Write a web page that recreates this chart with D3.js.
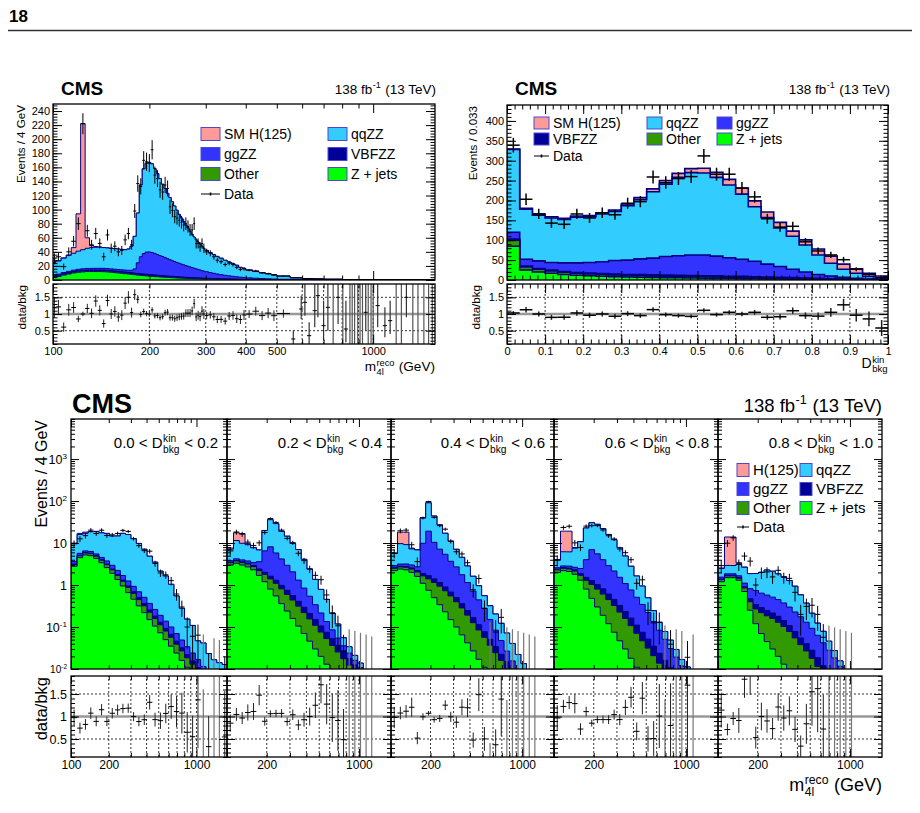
<!DOCTYPE html>
<html>
<head>
<meta charset="utf-8">
<script src="https://cdn.jsdelivr.net/npm/d3@7"></script>
<style>
  body { margin: 0; background: #fff; }
  svg text { font-family: "Liberation Sans", Arial, Helvetica, sans-serif; fill: #000; white-space: pre; }
</style>
</head>
<body>
<svg id="chart" width="920" height="813"></svg>
<script>
// ============================================================================
// m4l / D_bkg^kin overview: two linear stacks on top, five log-y m4l stacks
// below (one per D_bkg^kin slice), each with a data/bkg ratio pad underneath.
// ============================================================================

// ── Top-left: m4l, events / 4 GeV (4 GeV bins up to 298, wider after) ──────
const tlEdges = [100, ...d3.range(102, 299, 4), 306, 314, 322, 330, 340, 350, 360, 370, 380, 390, 400,
  420, 440, 460, 480, 500, 550, 600, 650, 700, 800, 900, 1000, 1200, 1560];
const tlZjets = [4, 5, 7, 8.5, 10, 11, 11.5, 12, 12, 12, 12, 11.8, 11.5, 11, 10.5, 10, 9.5, 9, 8.5, 8,
  7.5, 7, 6.6, 6.2, 5.8, 5.5, 5.2, 4.9, 4.6, 4.3, 4.1, 3.9, 3.7, 3.5, 3.3, 3.1, 2.9, 2.75, 2.6, 2.45,
  2.3, 2.2, 2.1, 2, 1.9, 1.8, 1.7, 1.6, 1.5, 1.45, 1.35, 1.25, 1.15, 1.05, 0.95, 0.85, 0.75, 0.68, 0.6, 0.55,
  0.5, 0.42, 0.35, 0.28, 0.23, 0.19, 0.14, 0.09, 0.06, 0.04, 0.025, 0.014, 0.008, 0.004, 0.001];
const tlOther = [1.0, 1.1, 1.2, 1.3, 1.4, 1.5, 1.5, 1.5, 1.5, 1.5, 1.5, 1.5, 1.5, 1.45, 1.45, 1.4, 1.4, 1.35, 1.35, 1.3,
  1.3, 1.3, 1.3, 1.25, 1.25, 1.2, 1.2, 1.15, 1.15, 1.1, 1.1, 1.05, 1.0, 1.0, 0.95, 0.95, 0.9, 0.9, 0.85, 0.85,
  0.8, 0.8, 0.75, 0.75, 0.7, 0.7, 0.68, 0.65, 0.62, 0.6, 0.57, 0.53, 0.5, 0.47, 0.44, 0.4, 0.37, 0.34, 0.31, 0.29,
  0.27, 0.23, 0.2, 0.17, 0.15, 0.13, 0.1, 0.07, 0.05, 0.035, 0.022, 0.013, 0.008, 0.004, 0.0015];
const tlVBF = [0.6, 0.6, 0.65, 0.65, 0.7, 0.7, 0.75, 0.75, 0.8, 0.8, 0.8, 0.85, 0.85, 0.85, 0.9, 0.9, 0.9, 0.95, 0.95, 1.0,
  1.0, 1.05, 1.1, 1.1, 1.15, 1.15, 1.15, 1.15, 1.1, 1.1, 1.1, 1.05, 1.05, 1.0, 1.0, 0.95, 0.95, 0.9, 0.9, 0.85,
  0.85, 0.8, 0.8, 0.78, 0.75, 0.72, 0.7, 0.68, 0.65, 0.62, 0.6, 0.56, 0.53, 0.5, 0.47, 0.44, 0.41, 0.38, 0.35, 0.33,
  0.31, 0.28, 0.24, 0.21, 0.18, 0.16, 0.13, 0.1, 0.075, 0.055, 0.04, 0.025, 0.017, 0.01, 0.004];
const tlGG = [1.5, 1.6, 1.7, 1.8, 1.9, 2.0, 2.1, 2.2, 2.2, 2.3, 2.3, 2.4, 2.4, 2.5, 2.5, 2.6, 2.7, 2.8, 3.0, 3.5,
  6, 15, 24, 29, 31.5, 32, 31.5, 30.5, 29.3, 28.2, 27, 25.8, 24.6, 23.4, 22.2, 21.2, 20.2, 19.2, 18.3, 17.4,
  16.6, 15.8, 15, 14.2, 13.4, 12.7, 12, 11.3, 10.6, 10, 9.2, 8.2, 7.3, 6.5, 5.7, 5.0, 4.4, 3.8, 3.3, 2.9,
  2.6, 2.1, 1.7, 1.35, 1.1, 0.9, 0.65, 0.42, 0.28, 0.19, 0.12, 0.065, 0.038, 0.02, 0.008];
const tlQQ = [17.9, 18.7, 20.5, 22.8, 24.0, 25.8, 27.2, 28.6, 29.5, 29.9, 29.9, 29.5, 29.3, 29.2, 29.2, 29.1, 29.0, 28.9, 30.2, 34.2,
  46.2, 70.7, 102, 120.5, 126.3, 127.2, 126, 120.3, 114.9, 109.3, 102.7, 98.2, 92.7, 88.1, 83.6, 78.8, 74.1, 69.3, 65.4, 61.5,
  57.5, 54.4, 50.4, 47.3, 44.3, 41.1, 38.9, 36.8, 34.6, 32.3, 30.3, 28.5, 26.5, 25.0, 23.4, 21.3, 19.6, 17.8, 16.4, 13.9,
  12.8, 11.0, 9.5, 8.5, 7.1, 6.0, 4.5, 2.3, 1.5, 1.2, 0.89, 0.48, 0.28, 0.16, 0.066];
const tlH = [0.1, 0.2, 0.3, 0.5, 8, 53, 179, 15, 3, 1, 0.4, 0.2];   // later bins: 0
const tlData = [30, 33, 19, 40, 55, 80, 222, 70, 50, 66, 52, 33, 64, 45, 48, 40, 42, 57, 66, 50,
  98, 137, 133, 170, 168, 166, 185, 149, 144, 128, 125, 135, 130, 104, 99, 90, 88, 85, 82, 78,
  80, 76, 71, 71, 80, 52, 52, 47, 52, 45, 40, 38, 33, 28, 26, 22, 24, 22, 18, 15,
  16, 14, 13, 10, 9, 7, 5.6, 3.2, 2.0, 1.5, 1.0, 0.55, 0.4, 0.2, 0.06];
// high-mass ratio points: [m4l, ratio (null = empty bin), low, high]
const tlRatioTail = [[563, 0.25, 0.1, 0.5], [596, 1.15, 0.85, 1.55], [612, 1.35, 0.95, 1.9], [631, 0.35, 0.1, 0.75],
  [657, 1.1, 0.6, 1.9], [672, 1.55, 0.9, 1.9], [700, 0.65, 0.2, 1.4], [722, 1.2, 0.5, 1.9], [750, null, 0.1, 1.9],
  [777, 1.5, 0.7, 1.9], [804, null, 0.1, 1.9], [822, 0.55, 0.15, 1.4], [846, null, 0.1, 1.9], [860, null, 0.1, 1.9],
  [875, null, 0.1, 1.9], [895, null, 0.1, 1.9], [910, null, 0.1, 1.9], [926, null, 0.1, 1.9], [948, 1.05, 0.5, 1.9],
  [965, null, 0.1, 1.9], [985, null, 0.1, 1.9], [1000, null, 0.1, 1.9], [1033, 1.25, 0.6, 1.9], [1088, 0.65, 0.3, 1.2],
  [1130, 0.8, 0.4, 1.4], [1180, null, 0.1, 1.9], [1225, null, 0.1, 1.9], [1270, 1.5, 0.9, 1.9], [1330, null, 0.1, 1.9],
  [1380, null, 0.1, 1.9], [1440, null, 0.1, 1.9], [1490, null, 0.1, 1.9], [1530, null, 0.1, 1.9]];

// ── Top-right: D_bkg^kin, 30 bins of 0.033 ─────────────────────────────────
const trZjets = [85, 25, 20, 17, 14, 12, 10.5, 9.5, 8.5, 7.5, 7, 6.5, 6, 5.5, 5, 4.5, 4.2, 3.8, 3.5, 3.2, 2.9, 2.6, 2.3, 2, 1.7, 1.4, 1.2, 0.9, 0.6, 0.4];
const trOther = [15, 8, 7, 6, 5.5, 5, 4.8, 4.5, 4.3, 4.1, 4, 3.9, 3.8, 3.7, 3.6, 3.5, 3.3, 3.1, 2.9, 2.7, 2.4, 2.1, 1.8, 1.5, 1.2, 0.9, 0.7, 0.5, 0.3, 0.2];
const trVBF = [3, 2, 2, 2, 2, 2, 2, 2.1, 2.2, 2.3, 2.4, 2.5, 2.6, 2.7, 2.8, 2.8, 2.8, 2.7, 2.6, 2.4, 2.2, 2, 1.8, 1.5, 1.2, 0.9, 0.7, 0.5, 0.3, 0.2];
const trGG = [17, 17, 19, 19, 21.5, 24, 26.7, 29.9, 34, 36.1, 39.6, 42.1, 46.6, 49.1, 51.6, 52.2, 49.7, 46.4, 43, 38.7, 32.5, 27.3, 21.1, 15, 9.9, 6.8, 4.4, 2.1, 1.3, 0.9];
const trQQ = [208, 126, 115, 112, 109, 115, 115, 120, 123.5, 137, 149, 167, 182, 197, 207, 206, 198, 183, 164, 137, 117, 97, 83, 68, 49, 32, 20, 13, 6.5, 3.3];
const trH = [1, 2, 3, 3, 3, 3, 3, 3, 3.5, 4, 5, 7, 9, 10, 10, 12, 13, 14, 15, 15, 14, 14, 13, 13, 15, 18, 13, 11, 8, 5];
const trData = [339, 203, 166, 143, 140, 166, 156, 169, 164, 193, 197, 259, 245, 255, 260, 312, 266, 266, 231, 209, 154, 133, 135, 96, 73, 63, 51, 27, 14.5, 5.8];

// ── Bottom: m4l in five D_bkg^kin slices, events / 4 GeV ───────────────────
const sliceEdges = ['0.0', '0.2', '0.4', '0.6', '0.8', '1.0'];
const botEdges = [100, 112, 124, 137, 151, 167, 184, 203, 224, 247, 272, 300, 331, 365, 403, 445, 491, 542, 598, 660,
  728, 803, 886, 978, 1079, 1190, 1313, 1449, 1599, 1764];
const botZjets = [
  [2.8, 4.5, 5.2, 5.0, 4.3, 3.4, 2.6, 1.9, 1.35, 0.95, 0.66, 0.46, 0.32, 0.22, 0.15, 0.105, 0.073, 0.05, 0.035, 0.024, 0.016, 0.011, 0.0075, 0.005, 0.0035, 0.0025, 0.0017, 0.0012, 0.0008],
  [3.0, 3.3, 3.0, 2.7, 2.3, 1.7, 1.2, 0.8, 0.55, 0.36, 0.24, 0.16, 0.105, 0.07, 0.046, 0.03, 0.02, 0.013, 0.0085, 0.0055, 0.0036, 0.0024, 0.0016, 0.001, 0.0007, 0.0005, 0.0003, 0.0002, 0.0001],
  [2.2, 2.4, 2.3, 2.0, 1.6, 1.1, 0.75, 0.5, 0.34, 0.23, 0.15, 0.1, 0.065, 0.042, 0.027, 0.017, 0.011, 0.007, 0.0045, 0.003, 0.002, 0.0013, 0.0009, 0.0006, 0.0004, 0.0003, 0.0002, 0.0001, 0.0001],
  [2.0, 2.2, 2.1, 1.8, 1.3, 0.8, 0.48, 0.3, 0.19, 0.12, 0.075, 0.047, 0.03, 0.018, 0.011, 0.007, 0.0045, 0.0028, 0.0018, 0.0011, 0.0007, 0.0004, 0.0003, 0.0002, 0.0001, 0, 0, 0, 0],
  [1.2, 1.5, 1.5, 1.3, 0.7, 0.25, 0.12, 0.07, 0.045, 0.03, 0.02, 0.013, 0.008, 0.005, 0.003, 0.002, 0.001, 0.0005, 0, 0, 0, 0, 0, 0, 0, 0, 0, 0, 0]];
const botOther = [
  [0.3, 0.5, 0.6, 0.6, 0.55, 0.5, 0.45, 0.4, 0.34, 0.28, 0.22, 0.17, 0.13, 0.1, 0.075, 0.055, 0.04, 0.03, 0.022, 0.015, 0.011, 0.0075, 0.0055, 0.004, 0.0028, 0.002, 0.0014, 0.001, 0.0007],
  [0.4, 0.45, 0.45, 0.45, 0.45, 0.5, 0.6, 0.6, 0.55, 0.45, 0.36, 0.28, 0.21, 0.15, 0.11, 0.08, 0.056, 0.04, 0.028, 0.02, 0.014, 0.01, 0.007, 0.005, 0.0034, 0.0024, 0.0016, 0.001, 0.0006],
  [0.3, 0.3, 0.35, 0.4, 0.45, 0.55, 0.65, 0.65, 0.6, 0.5, 0.4, 0.3, 0.22, 0.15, 0.1, 0.068, 0.046, 0.03, 0.02, 0.013, 0.0085, 0.0055, 0.0035, 0.0022, 0.0014, 0.0009, 0.0005, 0.0003, 0.0002],
  [0.3, 0.3, 0.3, 0.35, 0.4, 0.5, 0.55, 0.5, 0.42, 0.33, 0.25, 0.18, 0.13, 0.09, 0.06, 0.04, 0.027, 0.018, 0.012, 0.008, 0.005, 0.0033, 0.002, 0.0013, 0.0008, 0.0005, 0.0003, 0.0002, 0.0001],
  [0.15, 0.15, 0.15, 0.15, 0.15, 0.15, 0.15, 0.15, 0.14, 0.13, 0.11, 0.09, 0.07, 0.05, 0.035, 0.025, 0.017, 0.011, 0.007, 0.0045, 0.003, 0.002, 0.0012, 0.0008, 0.0005, 0.0003, 0.0002, 0.0001, 0]];
const botVBF = [
  [0.06, 0.08, 0.1, 0.1, 0.1, 0.1, 0.1, 0.1, 0.09, 0.08, 0.07, 0.06, 0.05, 0.04, 0.03, 0.022, 0.017, 0.013, 0.01, 0.007, 0.005, 0.0035, 0.0025, 0.0017, 0.0012, 0.0008, 0.0005, 0.0004, 0.0003],
  [0.08, 0.1, 0.12, 0.15, 0.17, 0.2, 0.22, 0.22, 0.2, 0.17, 0.15, 0.12, 0.095, 0.075, 0.055, 0.04, 0.03, 0.022, 0.016, 0.011, 0.008, 0.0055, 0.004, 0.0028, 0.002, 0.0014, 0.0009, 0.0006, 0.0004],
  [0.08, 0.1, 0.12, 0.15, 0.17, 0.22, 0.27, 0.25, 0.21, 0.17, 0.13, 0.1, 0.075, 0.055, 0.04, 0.028, 0.02, 0.014, 0.0095, 0.0065, 0.0043, 0.0028, 0.0018, 0.0011, 0.0007, 0.0005, 0.0003, 0.0002, 0.0001],
  [0.08, 0.1, 0.12, 0.15, 0.17, 0.22, 0.25, 0.23, 0.2, 0.16, 0.13, 0.1, 0.075, 0.055, 0.04, 0.028, 0.02, 0.014, 0.01, 0.007, 0.005, 0.0035, 0.0025, 0.0017, 0.0011, 0.0007, 0.0005, 0.0003, 0.0002],
  [0.04, 0.05, 0.05, 0.06, 0.06, 0.07, 0.07, 0.07, 0.06, 0.055, 0.05, 0.04, 0.03, 0.023, 0.017, 0.013, 0.01, 0.007, 0.005, 0.0035, 0.0024, 0.0016, 0.0011, 0.0007, 0.0005, 0.0003, 0.0002, 0.0001, 0.0001]];
const botGG = [
  [0.5, 0.6, 0.6, 0.6, 0.55, 0.55, 0.6, 0.55, 0.45, 0.38, 0.3, 0.24, 0.19, 0.15, 0.11, 0.08, 0.06, 0.045, 0.033, 0.024, 0.017, 0.012, 0.0085, 0.006, 0.004, 0.003, 0.002, 0.0015, 0.001],
  [0.3, 0.35, 0.4, 0.45, 0.5, 1.2, 4.5, 6.5, 4.5, 3.2, 2.2, 1.5, 0.9, 0.55, 0.33, 0.19, 0.11, 0.06, 0.033, 0.018, 0.01, 0.006, 0.0035, 0.002, 0.0012, 0.0007, 0.0004, 0.0003, 0.0002],
  [0.3, 0.35, 0.4, 0.45, 0.5, 8, 17.5, 9, 6, 4.5, 3.0, 2.2, 1.4, 0.9, 0.55, 0.33, 0.2, 0.1, 0.05, 0.025, 0.012, 0.006, 0.003, 0.0015, 0.001, 0.0006, 0.0004, 0.0002, 0.0001],
  [0.2, 0.25, 0.3, 0.35, 0.6, 2.5, 5.7, 4.5, 3.2, 2.3, 1.7, 1.2, 0.85, 0.6, 0.4, 0.27, 0.17, 0.1, 0.06, 0.035, 0.02, 0.012, 0.007, 0.004, 0.0025, 0.0015, 0.001, 0.0006, 0.0003],
  [0.15, 0.15, 0.15, 0.15, 0.2, 0.35, 0.4, 0.35, 0.33, 0.3, 0.27, 0.23, 0.19, 0.15, 0.12, 0.09, 0.065, 0.045, 0.03, 0.02, 0.013, 0.008, 0.005, 0.003, 0.002, 0.0012, 0.0008, 0.0005, 0.0003]];
const botQQ = [
  [6.0, 10.3, 10.5, 12.4, 13.4, 13.0, 13.2, 11.7, 12.5, 15.3, 14.7, 11.8, 9.1, 6.6, 4.5, 3.24, 1.95, 1.5, 0.94, 0.48, 0.23, 0.12, 0.085, 0.03, 0.03, 0.015, 0.011, 0.01, 0.01],
  [3.35, 7.3, 5.9, 5.4, 4.3, 3.25, 13.4, 27.85, 23.2, 14.8, 11.6, 7.75, 5.7, 3.25, 1.86, 1.02, 0.57, 0.32, 0.13, 0.063, 0.02, 0.01, 0.005, 0.003, 0.0015, 0.001, 0.0005, 0.0003, 0.0002],
  [2.75, 6.55, 6.0, 4.25, 4.15, 30, 71.7, 33.6, 19.9, 11.7, 7.4, 4.4, 2.8, 1.7, 0.9, 0.52, 0.28, 0.17, 0.12, 0.075, 0.045, 0.025, 0.013, 0.008, 0.004, 0.002, 0, 0, 0],
  [1.35, 3.35, 3.35, 4.9, 8.3, 18.8, 23.4, 22.4, 18.0, 13.1, 9.85, 6.2, 3.82, 2.04, 1.13, 0.6, 0.275, 0.11, 0.045, 0.027, 0.018, 0.01, 0.005, 0.004, 0.001, 0, 0, 0, 0],
  [0.95, 1.08, 1.06, 1.54, 1.54, 1.05, 1.14, 1.36, 1.7, 1.62, 1.4, 1.2, 0.98, 0.71, 0.41, 0.24, 0.12, 0.06, 0.037, 0.018, 0.009, 0.004, 0.002, 0.001, 0, 0, 0, 0, 0]];
const botH = [[0.3, 1.0, 1.2, 0.2, 0.05], [0.5, 6.0, 7.0, 0.5, 0.1], [0.2, 8.5, 9.0, 0.3, 0.05], [0.1, 13, 13, 0.3, 0.05], [0.05, 11, 11, 0.2, 0.03]];
const botData = [
  [9.7, 12.6, 15, 20.3, 16.9, 20.2, 15.1, 15.7, 16.9, 20, 18.9, 12.7, 8.7, 6.6, 6.4, 3.26, 1.94, 1.75, 1.27, 0.61, 0.3, 0.1, 0.06, 0.064, 0, 0.0077, 0, 0, 0.007],
  [6.5, 18.3, 16.3, 10.5, 8.7, 10.1, 17.8, 38.2, 31, 20.3, 12.9, 10.2, 5.7, 3.8, 2.4, 1.7, 1.34, 0.58, 0.21, 0.107, 0.027, 0, 0, 0, 0, 0, 0, 0, 0],
  [5.7, 19.6, 20.3, 9.1, 3.6, 39.6, 97.4, 40.9, 25.9, 21.4, 11, 6.2, 5.5, 3.4, 0.77, 1.43, 0.28, 0, 0.076, 0.17, 0, 0, 0, 0, 0, 0, 0, 0, 0],
  [3.9, 23.5, 25.1, 10.1, 7.8, 25.3, 25.9, 26, 20.5, 14.9, 12.5, 7.2, 5.9, 4.0, 1.1, 1.33, 0.25, 0.125, 0.13, 0, 0.039, 0, 0, 0.019, 0, 0, 0, 0, 0],
  [2.9, 9.9, 13.3, 3.1, 4.9, 3.7, 1.0, 2.0, 2.05, 1.56, 2.24, 1.52, 1.44, 0.67, 0.2, 0.31, 0.33, 0.2, 0.057, 0, 0, 0, 0, 0, 0, 0, 0, 0, 0]];

// ── Styling ─────────────────────────────────────────────────────────────────
const COL = { h: '#ff9a9a', qq: '#33ccff', gg: '#3333ff', vbf: '#000099', other: '#339900', zjets: '#00ff00' };
const STACK_COLORS = [COL.zjets, COL.other, COL.vbf, COL.gg, COL.qq, COL.h];   // bottom → top
const OUTLINE = '#00007f';
const NBSP = '\u00a0';

const svg = d3.select('#chart');
const defs = svg.append('defs');
let clipCount = 0;

function clipRect(x0, y0, x1, y1) {
  const id = 'clip' + (clipCount++);
  defs.append('clipPath').attr('id', id).append('rect')
    .attr('x', x0).attr('y', y0).attr('width', x1 - x0).attr('height', y1 - y0);
  return `url(#${id})`;
}

// Inward ticks on one side, drawn by a d3 axis without labels.
function ticks(g, axisFn, scale, values, size, tx, ty) {
  const dom = scale.domain(), lo = Math.min(...dom), hi = Math.max(...dom);
  const vals = values.filter(v => v >= lo - 1e-9 && v <= hi + 1e-9);
  g.append('g').attr('transform', `translate(${tx},${ty})`).attr('color', '#000')
    .call(axisFn(scale).tickValues(vals).tickSize(-size).tickFormat(''))
    .call(a => a.select('.domain').remove());
}

// Frame rectangle with major/minor ticks on all four sides (ROOT style).
function frame(g, x, y, t) {
  const [x0, x1] = x.range(), [yb, yt] = y.range();
  [[t.xMajor, t.maj], [t.xMinor, t.min]].forEach(([v, s]) => {
    ticks(g, d3.axisBottom, x, v, s, 0, yb); ticks(g, d3.axisTop, x, v, s, 0, yt);
  });
  [[t.yMajor, t.maj], [t.yMinor, t.min]].forEach(([v, s]) => {
    ticks(g, d3.axisLeft, y, v, s, x0, 0); ticks(g, d3.axisRight, y, v, s, x1, 0);
  });
  g.append('rect').attr('x', x0).attr('y', yt).attr('width', x1 - x0).attr('height', yb - yt)
    .attr('fill', 'none').attr('stroke', '#000').attr('stroke-width', 1.3);
}

function labels(g, axisFn, scale, values, fmt, tx, ty, size, pad) {
  return g.append('g').attr('transform', `translate(${tx},${ty})`)
    .call(axisFn(scale).tickValues(values).tickSize(0).tickPadding(pad).tickFormat(fmt))
    .call(a => a.select('.domain').remove())
    .call(a => a.selectAll('text').attr('font-size', size));
}

// "10^n" labels on log axes
function powerLabels(sel) {
  sel.selectAll('text').each(function (v) {
    const e = Math.round(Math.log10(v));
    const t = d3.select(this);
    if (e === 0) t.text('1');
    else if (e === 1) t.text('10');
    else { t.text('10'); t.append('tspan').attr('dy', '-0.55em').attr('font-size', '0.65em').text(e); }
  });
}

// Text with a stacked superscript/subscript after the lead part, e.g. m_{4l}^{reco}.
function richText(g, x, yb, size, lead, sup, sub, tail, anchor = 'end', supRise = 0.42) {
  const grp = g.append('g');
  const t1 = grp.append('text').attr('y', yb).attr('font-size', size).text(lead);
  const w1 = t1.node().getComputedTextLength();
  let wss = 0;
  if (sup) {
    const ts = grp.append('text').attr('x', w1 + 0.5).attr('y', yb - size * supRise).attr('font-size', size * 0.68).text(sup);
    wss = Math.max(wss, ts.node().getComputedTextLength());
  }
  if (sub) {
    const tb = grp.append('text').attr('x', w1 + 0.5).attr('y', yb + size * 0.3).attr('font-size', size * 0.68).text(sub);
    wss = Math.max(wss, tb.node().getComputedTextLength());
  }
  let total = w1 + (wss ? wss + 1 : 0);
  if (tail) {
    const tt = grp.append('text').attr('x', total).attr('y', yb).attr('font-size', size).text(tail);
    total += tt.node().getComputedTextLength();
  }
  grp.attr('transform', `translate(${anchor === 'end' ? x - total : x},0)`);
}

function vTitle(g, x, yTop, size, str) {
  g.append('text').attr('transform', `translate(${x},${yTop}) rotate(-90)`)
    .attr('text-anchor', 'end').attr('font-size', size).text(str);
}

function stepPath(edges, vals, x, yOf, yBase) {
  let p = `M${x(edges[0])},${yBase}`;
  vals.forEach((v, i) => { const yy = yOf(v); p += `L${x(edges[i])},${yy}L${x(edges[i + 1])},${yy}`; });
  return p + `L${x(edges[edges.length - 1])},${yBase}Z`;
}

// Stacked step histograms: each layer filled from the floor up to its cumulative sum.
function drawStack(g, edges, comps, x, y, floor, sw) {
  const n = edges.length - 1;
  const cum = [];
  let run = new Array(n).fill(0);
  comps.forEach(c => { run = run.map((v, i) => v + (c[i] || 0)); cum.push(run); });
  const yBase = y.range()[0] + 6;
  for (let k = comps.length - 1; k >= 0; k--) {
    g.append('path').attr('d', stepPath(edges, cum[k], x, v => y(Math.max(v, floor)), yBase))
      .attr('fill', STACK_COLORS[k]).attr('stroke', OUTLINE).attr('stroke-width', sw);
  }
  return cum[cum.length - 1];
}

function seg(g, x1, y1, x2, y2, color, w) {
  g.append('line').attr('x1', x1).attr('y1', y1).attr('x2', x2).attr('y2', y2)
    .attr('stroke', color).attr('stroke-width', w);
}

// Data crosses in the main pad. errOf gives the (symmetric) error; upper limit for empty bins.
function drawData(g, edges, data, x, y, floor, errOf, emptyTop, totals, sw) {
  data.forEach((d, i) => {
    if (i >= edges.length - 1) return;
    const xl = x(edges[i]), xr = x(edges[i + 1]), xc = (xl + xr) / 2;
    if (d > 0) {
      const e = errOf(d, i);
      seg(g, xc, y(Math.max(d - e, floor)), xc, y(d + e), '#000', sw);
      seg(g, xl, y(d), xr, y(d), '#000', sw);
    } else if (emptyTop && totals[i] > 0.004) {
      seg(g, xc, y(floor), xc, y(emptyTop(i)), '#777', 1.2);
    }
  });
}

// data/bkg points in the ratio pad
function drawRatio(g, edges, data, totals, x, yr, errOf, emptyTop, maxBin, sw) {
  data.forEach((d, i) => {
    if (i >= edges.length - 1 || i > maxBin || !(totals[i] > 0)) return;
    const xl = x(edges[i]), xr = x(edges[i + 1]), xc = (xl + xr) / 2;
    if (d > 0) {
      const r = d / totals[i], e = errOf(d, i) / totals[i];
      seg(g, xc, yr(Math.max(r - e, 0)), xc, yr(r + e), '#222', sw);
      seg(g, xl, yr(r), xr, yr(r), '#000', sw);
    } else if (emptyTop && totals[i] > 0.004) {
      seg(g, xc, yr(0), xc, yr(emptyTop(i) / totals[i]), '#777', 1.2);
    }
  });
}

function ratioGrid(g, x, yr, verticals) {
  const [x0, x1] = x.range(), [yb, yt] = yr.range();
  [0.5, 1.5].forEach(v => g.append('line').attr('x1', x0).attr('x2', x1).attr('y1', yr(v)).attr('y2', yr(v))
    .attr('stroke', '#000').attr('stroke-width', 0.8).attr('stroke-dasharray', '2,2'));
  verticals.forEach(v => g.append('line').attr('x1', x(v)).attr('x2', x(v)).attr('y1', yb).attr('y2', yt)
    .attr('stroke', '#000').attr('stroke-width', 0.8).attr('stroke-dasharray', '2,2'));
  g.append('line').attr('x1', x0).attr('x2', x1).attr('y1', yr(1)).attr('y2', yr(1))
    .attr('stroke', '#999').attr('stroke-width', 2.5);
}

function legend(g, entries, sw, sh, size) {
  entries.forEach(([label, key, lx, ly]) => {
    if (key === 'data') {
      seg(g, lx, ly, lx + sw, ly, '#000', 1);
      seg(g, lx + sw / 2, ly - 1.5, lx + sw / 2, ly + 1.5, '#000', 1.5);
    } else {
      g.append('rect').attr('x', lx).attr('y', ly - sh / 2).attr('width', sw).attr('height', sh)
        .attr('fill', COL[key]).attr('stroke', '#4a4acf').attr('stroke-width', 1);
    }
    g.append('text').attr('x', lx + sw + 4).attr('y', ly + size * 0.36).attr('font-size', size).text(label);
  });
}

function cmsLabel(g, x, yb, size) {
  g.append('text').attr('x', x).attr('y', yb).attr('font-size', size).attr('font-weight', 700).text('CMS');
}

// ── Page header ─────────────────────────────────────────────────────────────
svg.append('text').attr('x', 9).attr('y', 22).attr('font-size', 17).attr('font-weight', 700).text('18');
seg(svg, 8, 30.5, 912, 30.5, '#333', 1.3);

// ── Top-left: m4l linear ────────────────────────────────────────────────────
{
  const g = svg.append('g');
  const x = d3.scaleLog().domain([100, 1560]).range([53, 435]);
  const y = d3.scaleLinear().domain([0, 250]).range([280, 104]);
  const yr = d3.scaleLinear().domain([0.1, 1.9]).range([344, 284]);
  const tlTotal = drawStack(g.append('g').attr('clip-path', clipRect(53, 104, 435, 280)),
    tlEdges, [tlZjets, tlOther, tlVBF, tlGG, tlQQ, tlH], x, y, 0, 1);
  const width = i => tlEdges[i + 1] - tlEdges[i];
  const err = (d, i) => Math.sqrt(d * 4 / width(i));
  drawData(g.append('g').attr('clip-path', clipRect(53, 104, 435, 280)), tlEdges, tlData, x, y, 0, err, null, tlTotal, 1);

  const logMinor = [200, 300, 400, 500, 600, 700, 800, 900];
  frame(g, x, y, { xMajor: [100, 1000], xMinor: logMinor, yMajor: d3.range(0, 241, 20), yMinor: d3.range(0, 251, 4), maj: 9, min: 4.5 });
  labels(g, d3.axisLeft, y, d3.range(0, 241, 20), d3.format('d'), 53, 0, 11, 3);

  const rg = g.append('g');
  const rc = rg.append('g').attr('clip-path', clipRect(53, 284, 435, 344));
  ratioGrid(rc, x, yr, [200, 300, 400, 500, 600, 700, 800, 900, 1000]);
  drawRatio(rc, tlEdges, tlData, tlTotal, x, yr, err, null, 66, 1);
  tlRatioTail.forEach(([m, r, lo, hi]) => {
    const xc = x(m);
    seg(rc, xc, yr(lo), xc, yr(hi), r === null ? '#555' : '#333', 1.2);
    if (r !== null) seg(rc, x(m * 0.985), yr(r), x(m * 1.015), yr(r), '#000', 1);
  });
  frame(rg, x, yr, { xMajor: [100, 1000], xMinor: logMinor, yMajor: [0.5, 1, 1.5], yMinor: d3.range(0.1, 1.95, 0.1), maj: 9, min: 4.5 });
  labels(rg, d3.axisLeft, yr, [0.5, 1, 1.5], d3.format('~g'), 53, 0, 11, 3);
  labels(rg, d3.axisBottom, x, [100, 200, 300, 400, 500, 1000], d3.format('d'), 0, 344, 11, 3);

  cmsLabel(g, 61, 95, 19);
  richText(g, 436, 94, 13.5, '138 fb', '-1', null, NBSP + '(13 TeV)');
  vTitle(g, 25, 105, 11.6, 'Events / 4 GeV');
  vTitle(g, 26, 285, 11.6, 'data/bkg');
  richText(g, 435, 371, 13.6, 'm', 'reco', '4l', NBSP + '(GeV)', 'end', 0.36);

  legend(g, [['SM H(125)', 'h', 201, 134], ['ggZZ', 'gg', 201, 154], ['Other', 'other', 201, 174], ['Data', 'data', 201, 194],
    ['qqZZ', 'qq', 328, 134], ['VBFZZ', 'vbf', 328, 154], ['Z + jets', 'zjets', 328, 174]], 19, 13, 14);
}

// ── Top-right: D_bkg^kin ─────────────────────────────────────────────────────
{
  const g = svg.append('g');
  const trEdges = d3.range(0, 31).map(i => i / 30);
  const x = d3.scaleLinear().domain([0, 1]).range([507, 888]);
  const y = d3.scaleLinear().domain([0, 440]).range([280, 105]);
  const yr = d3.scaleLinear().domain([0.1, 1.9]).range([344, 284]);
  const trTotal = drawStack(g.append('g').attr('clip-path', clipRect(507, 105, 888, 280)),
    trEdges, [trZjets, trOther, trVBF, trGG, trQQ, trH], x, y, 0, 1.6);
  const err = d => Math.sqrt(d);
  drawData(g.append('g').attr('clip-path', clipRect(507, 105, 888, 280)), trEdges, trData, x, y, 0, err, null, trTotal, 1.5);

  const xMaj = d3.range(0, 1.001, 0.1), xMin = d3.range(0, 1.001, 0.02);
  frame(g, x, y, { xMajor: xMaj, xMinor: xMin, yMajor: d3.range(0, 401, 50), yMinor: d3.range(0, 441, 10), maj: 9, min: 4.5 });
  labels(g, d3.axisLeft, y, d3.range(0, 401, 50), d3.format('d'), 507, 0, 11, 3);

  const rg = g.append('g');
  const rc = rg.append('g').attr('clip-path', clipRect(507, 284, 888, 344));
  ratioGrid(rc, x, yr, d3.range(1, 10).map(i => i / 10));
  drawRatio(rc, trEdges, trData, trTotal, x, yr, err, null, 99, 1.5);
  frame(rg, x, yr, { xMajor: xMaj, xMinor: xMin, yMajor: [0.5, 1, 1.5], yMinor: d3.range(0.1, 1.95, 0.1), maj: 9, min: 4.5 });
  labels(rg, d3.axisLeft, yr, [0.5, 1, 1.5], d3.format('~g'), 507, 0, 11, 3);
  labels(rg, d3.axisBottom, x, xMaj, d3.format('~g'), 0, 344, 11, 3);

  cmsLabel(g, 515, 95, 19);
  richText(g, 890, 94, 13.5, '138 fb', '-1', null, NBSP + '(13 TeV)');
  vTitle(g, 477, 106, 11.6, 'Events / 0.033');
  vTitle(g, 480, 285, 11.6, 'data/bkg');
  richText(g, 888, 368, 14, 'D', 'kin', 'bkg', null, 'end', 0.38);

  legend(g, [['SM H(125)', 'h', 534, 123], ['qqZZ', 'qq', 647, 123], ['ggZZ', 'gg', 717, 123],
    ['VBFZZ', 'vbf', 534, 139], ['Other', 'other', 647, 139], ['Z + jets', 'zjets', 717, 139],
    ['Data', 'data', 534, 156]], 15, 12, 14);
}

// ── Bottom: five D_bkg^kin slices, log y ───────────────────────────────────
{
  const g = svg.append('g');
  const panels = [[71, 227], [227, 391], [391, 554], [554, 718], [718, 882]];
  const y = d3.scaleLog().domain([0.01, 9000]).range([669, 419]);
  const yr = d3.scaleLinear().domain([0.1, 1.9]).range([757, 676]);
  const decades = [0.01, 0.1, 1, 10, 100, 1000];
  const yMinor = decades.flatMap(d => d3.range(2, 10).map(k => +(k * d).toPrecision(3))).filter(v => v <= 9000);
  const width = i => botEdges[i + 1] - botEdges[i];
  const err = (d, i) => Math.sqrt(d * 4 / width(i));
  const emptyTop = i => 1.84 * 4 / width(i);

  panels.forEach(([l, r], p) => {
    const x = d3.scaleLog().domain([100, 1750]).range([l, r]);
    const main = g.append('g').attr('clip-path', clipRect(l, 419, r, 669));
    const total = drawStack(main, botEdges, [botZjets[p], botOther[p], botVBF[p], botGG[p], botQQ[p], botH[p]], x, y, 0.004, 1);
    drawData(main, botEdges, botData[p], x, y, 0.01, err, emptyTop, total, 1);
    frame(g, x, y, { xMajor: [100, 1000], xMinor: [200, 300, 400, 500, 600, 700, 800, 900], yMajor: decades, yMinor, maj: 8, min: 4 });

    const rc = g.append('g').attr('clip-path', clipRect(l, 676, r, 757));
    ratioGrid(rc, x, yr, [200, 300, 400, 500, 600, 700, 800, 900, 1000]);
    drawRatio(rc, botEdges, botData[p], total, x, yr, err, emptyTop, 99, 1);
    frame(g, x, yr, { xMajor: [100, 1000], xMinor: [200, 300, 400, 500, 600, 700, 800, 900], yMajor: [0.5, 1, 1.5], yMinor: d3.range(0.1, 1.95, 0.1), maj: 8, min: 4 });
    labels(g, d3.axisBottom, x, p === 0 ? [100, 200, 1000] : [200, 1000], d3.format('d'), 0, 757, 12, 3.5);

    richText(g, r - 9, 448, 15, `${sliceEdges[p]}${NBSP}<${NBSP}D`, 'kin', 'bkg', `${NBSP}<${NBSP}${sliceEdges[p + 1]}`);
  });

  const yl = labels(g, d3.axisLeft, y, decades, d => d, 71, 0, 12.5, 4);
  powerLabels(yl);
  yl.selectAll('text').filter(v => v === 0.01).attr('font-size', 10);
  labels(g, d3.axisLeft, yr, [0.5, 1, 1.5], d3.format('~g'), 71, 0, 12.5, 4);

  cmsLabel(g, 72, 413, 27);
  richText(g, 882, 412, 18.5, '138 fb', '-1', null, NBSP + '(13 TeV)');
  vTitle(g, 47, 420, 16, 'Events / 4 GeV');
  vTitle(g, 47, 677, 16.5, 'data/bkg');
  richText(g, 882, 791, 18, 'm', 'reco', '4l', NBSP + '(GeV)', 'end', 0.38);

  legend(g, [['H(125)', 'h', 737, 470], ['ggZZ', 'gg', 737, 489], ['Other', 'other', 737, 508], ['Data', 'data', 737, 527],
    ['qqZZ', 'qq', 800, 470], ['VBFZZ', 'vbf', 800, 489], ['Z + jets', 'zjets', 800, 508]], 12, 13, 15);
}
</script>
</body>
</html>
